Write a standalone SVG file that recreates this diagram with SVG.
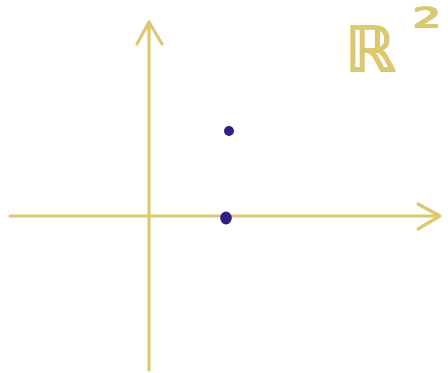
<svg xmlns="http://www.w3.org/2000/svg" width="448" height="373" viewBox="0 0 448 373">
<style>
.ax{stroke:#dcc870;stroke-width:3.2;fill:none;stroke-linecap:round;stroke-linejoin:round}
.pt{fill:#2f2183}
.lbl{fill:#dcc870;stroke:#dcc870;stroke-width:1.8;stroke-linejoin:round;font-family:"DejaVu Sans",sans-serif}
</style>
<rect width="448" height="373" fill="#ffffff"/>
<g id="axes">
<path class="ax" d="M10 216 L440 216 M418 204 L440 216 L418 229"/>
<path class="ax" d="M149 370 L149 22 M137 44 L149 22 L162 44"/>
</g>
<g id="points">
<circle class="pt" cx="229" cy="131" r="5"/>
<ellipse class="pt" cx="226" cy="218" rx="5.8" ry="6.5"/>
</g>
<g id="label">
<text class="lbl" x="345" y="71" font-size="62" textLength="51" lengthAdjust="spacingAndGlyphs">ℝ</text>
<text class="lbl" x="413" y="27" font-size="26" textLength="28" lengthAdjust="spacingAndGlyphs">2</text>
</g>
</svg>
